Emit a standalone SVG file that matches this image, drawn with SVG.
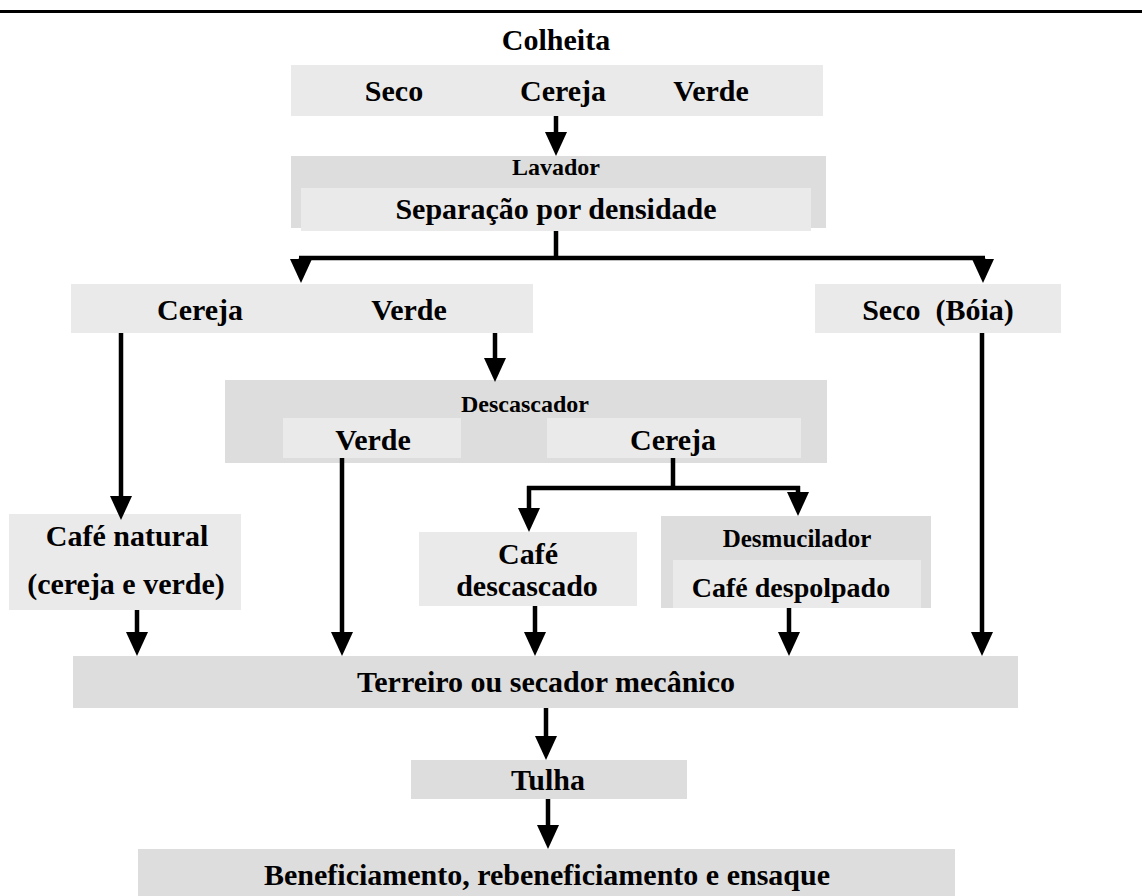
<svg xmlns="http://www.w3.org/2000/svg" width="1142" height="896" viewBox="0 0 1142 896">
<style>
.lt{fill:#eaeaea}
.dk{fill:#dddddd}
text{font-family:"Liberation Serif","Times New Roman",serif;font-weight:bold;fill:#000;text-anchor:middle}
.b{font-size:30px}
.s{font-size:24px}
.ln{stroke:#000;stroke-width:4.5;fill:none}
.ah{fill:#000}
</style>
<defs>
<path id="ar" d="M-11,-24 L11,-24 L0,0 Z"/>
</defs>
<rect x="0" y="10" width="1142" height="3" fill="#000"/>
<g id="colheita">
<text class="b" x="556" y="50">Colheita</text>
<rect class="lt" x="291" y="65" width="532" height="51"/>
<text class="b" x="394" y="101">Seco</text>
<text class="b" x="563" y="101">Cereja</text>
<text class="b" x="711" y="101">Verde</text>
</g>
<g id="lavador">
<rect class="dk" x="291" y="156" width="535" height="72"/>
<text class="s" x="556" y="175">Lavador</text>
<rect class="lt" x="301" y="188" width="510" height="43"/>
<text class="b" x="556" y="219">Separação por densidade</text>
</g>
<g id="cereja-verde">
<rect class="lt" x="71" y="284" width="462" height="49"/>
<text class="b" x="200" y="320">Cereja</text>
<text class="b" x="409" y="320">Verde</text>
</g>
<g id="seco-boia">
<rect class="lt" x="815" y="284" width="246" height="49"/>
<text class="b" x="938" y="320" xml:space="preserve">Seco  (Bóia)</text>
</g>
<g id="descascador">
<rect class="dk" x="225" y="380" width="602" height="83"/>
<text class="s" x="525" y="412">Descascador</text>
<rect class="lt" x="283" y="418" width="178" height="40"/>
<text class="b" x="373" y="450">Verde</text>
<rect class="lt" x="547" y="418" width="254" height="40"/>
<text class="b" x="673" y="450">Cereja</text>
</g>
<g id="cafe-natural">
<rect class="lt" x="9" y="514" width="232" height="96"/>
<text class="b" x="127" y="546">Café natural</text>
<text class="b" x="126" y="594">(cereja e verde)</text>
</g>
<g id="cafe-descascado">
<rect class="lt" x="419" y="532" width="218" height="74"/>
<text class="b" x="528" y="564">Café</text>
<text class="b" x="527" y="596">descascado</text>
</g>
<g id="desmucilador">
<rect class="dk" x="661" y="516" width="270" height="92"/>
<text style="font-size:25px" x="797" y="547">Desmucilador</text>
<rect class="lt" x="673" y="560" width="248" height="48"/>
<text style="font-size:28px" x="791" y="597">Café despolpado</text>
</g>
<g id="terreiro">
<rect class="dk" x="73" y="656" width="945" height="52"/>
<text class="b" x="546" y="692">Terreiro ou secador mecânico</text>
</g>
<g id="tulha">
<rect class="dk" x="411" y="760" width="276" height="39"/>
<text class="b" x="548" y="790">Tulha</text>
</g>
<g id="beneficiamento">
<rect class="dk" x="138" y="849" width="817" height="47"/>
<text class="b" x="547" y="885">Beneficiamento, rebeneficiamento e ensaque</text>
</g>
<g id="connectors">
<path class="ln" d="M556,116 V136"/>
<use href="#ar" x="556" y="156"/>
<path class="ln" d="M556,231 V258 M299,258 H985 M301,258 V262 M983,258 V262"/>
<use href="#ar" x="301" y="283"/>
<use href="#ar" x="983" y="283"/>
<path class="ln" d="M121,333 V498"/>
<use href="#ar" x="121" y="520"/>
<path class="ln" d="M495,333 V362"/>
<use href="#ar" x="495" y="382"/>
<path class="ln" d="M342,458 V636"/>
<use href="#ar" x="342" y="656"/>
<path class="ln" d="M673,458 V488 M527,488 H800 M529,486 V512 M798,486 V496"/>
<use href="#ar" x="529" y="532"/>
<use href="#ar" x="798" y="516"/>
<path class="ln" d="M137,610 V636"/>
<use href="#ar" x="137" y="656"/>
<path class="ln" d="M535,606 V636"/>
<use href="#ar" x="535" y="656"/>
<path class="ln" d="M789,608 V636"/>
<use href="#ar" x="789" y="656"/>
<path class="ln" d="M982,333 V636"/>
<use href="#ar" x="982" y="656"/>
<path class="ln" d="M546,708 V740"/>
<use href="#ar" x="546" y="760"/>
<path class="ln" d="M548,799 V829"/>
<use href="#ar" x="548" y="849"/>
</g>
</svg>
